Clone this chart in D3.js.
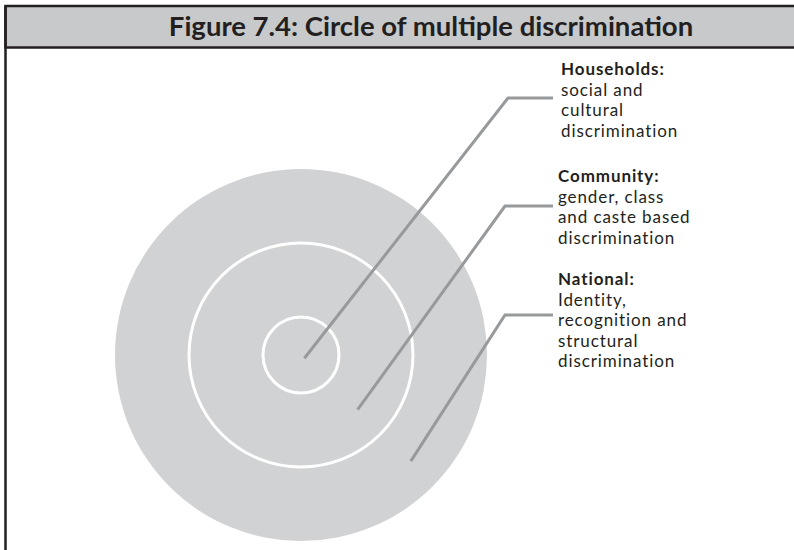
<!DOCTYPE html>
<html>
<head>
<meta charset="utf-8">
<script src="https://cdn.jsdelivr.net/npm/d3@7"></script>
<style>
  body { margin: 0; background: #fff; }
  svg { display: block; font-family: Lato, "Open Sans", sans-serif; }
</style>
</head>
<body>
<script>
// chart content
var title = "Figure 7.4: Circle of multiple discrimination";
var levels = [1, 2, 3];
var headings = ["Households:", "Community:", "National:"];
var descriptions = [
  ["social and", "cultural", "discrimination"],
  ["gender, class", "and caste based", "discrimination"],
  ["Identity,", "recognition and", "structural", "discrimination"]
];

var width = 794, height = 550;
var cx = 301, cy = 355;

var svg = d3.select("body").append("svg")
  .attr("width", width)
  .attr("height", height);

// frame + title bar
svg.append("rect")
  .attr("x", 5.5).attr("y", 6)
  .attr("width", width + 10).attr("height", 41.5)
  .attr("fill", "#c8c9cb")
  .attr("stroke", "#231f20")
  .attr("stroke-width", 2.5);
svg.append("line")
  .attr("x1", 5.5).attr("x2", 5.5)
  .attr("y1", 6).attr("y2", height)
  .attr("stroke", "#231f20")
  .attr("stroke-width", 2.5);

svg.append("text")
  .attr("x", 431).attr("y", 36)
  .attr("text-anchor", "middle")
  .attr("font-weight", "bold")
  .attr("font-size", 27.5)
  .attr("fill", "#231f20")
  .text(title);

// ring radius by level (boundary of each ring)
var r = d3.scaleLinear().domain([1, 3]).range([38, 186]);

svg.append("circle")
  .attr("cx", cx).attr("cy", cy)
  .attr("r", r(3))
  .attr("fill", "#d1d2d4");

svg.selectAll("circle.ring")
  .data(levels.slice(0, 2))
  .enter()
  .append("circle")
  .attr("class", "ring")
  .attr("cx", cx).attr("cy", cy)
  .attr("r", function(d) { return r(d); })
  .attr("fill", "none")
  .attr("stroke", "#fff")
  .attr("stroke-width", 3);

// leader lines: from inside each ring up to its label
var angle = 44 * Math.PI / 180;
var elbowX = [508, 505, 505];
var elbowY = [98, 206, 315];
var lineEndX = 553;

svg.selectAll("polyline.leader")
  .data(levels)
  .enter()
  .append("polyline")
  .attr("class", "leader")
  .attr("fill", "none")
  .attr("stroke", "#98999b")
  .attr("stroke-width", 3)
  .attr("points", function(d, i) {
    var rr = r(d - 0.45);
    var px = cx + rr * Math.cos(angle), py = cy + rr * Math.sin(angle);
    return [[px, py], [elbowX[i], elbowY[i]], [lineEndX, elbowY[i]]].join(" ");
  });

// labels, one text per line
var labelX = [561, 558, 558];
var labelY = [75, 182, 285];
var lineH = 20.5;

levels.forEach(function(d, i) {
  var lines = [headings[i]].concat(descriptions[i]);
  svg.selectAll("text.label" + d)
    .data(lines)
    .enter()
    .append("text")
    .attr("class", "label" + d)
    .attr("x", labelX[i])
    .attr("y", function(l, j) { return labelY[i] + lineH * j; })
    .attr("font-size", 17)
    .attr("letter-spacing", 0.9)
    .attr("font-weight", function(l, j) { return j === 0 ? "bold" : "normal"; })
    .attr("fill", "#231f20")
    .text(function(l) { return l; });
});
</script>
</body>
</html>
